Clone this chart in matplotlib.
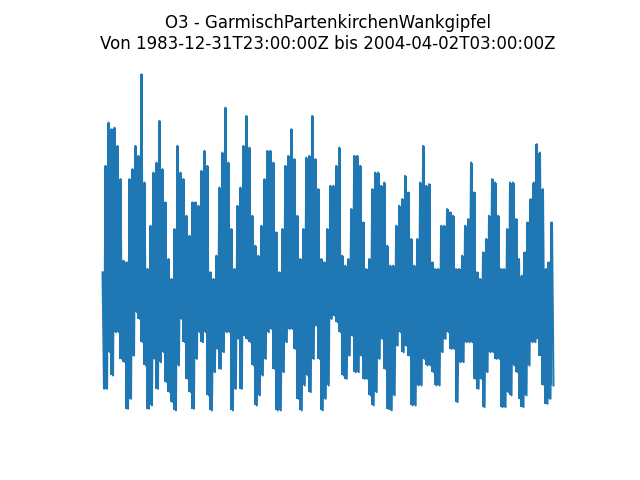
#!/usr/bin/env python3
""" O3 time series, Garmisch-Partenkirchen Wankgipfel
"""
import numpy as np
import pandas as pd
import matplotlib
matplotlib.use("Agg")
import matplotlib.pyplot as plt

station = "GarmischPartenkirchenWankgipfel"
start = "1983-12-31T23:00:00Z"
end = "2004-04-02T03:00:00Z"

# upper and lower envelope of the hourly series
highs = [86, 150, 176, 172, 173, 162, 142, 93, 92, 142, 148, 162, 156, 205, 140, 88, 114, 146, 152,
         177, 148, 128, 94, 82, 112, 162, 146, 142, 120, 108, 128, 128, 126, 147, 159, 150, 86, 82,
         96, 137, 158, 185, 152, 112, 88, 126, 137, 162, 180, 161, 120, 102, 96, 114, 142, 159, 159,
         152, 110, 86, 112, 150, 156, 172, 154, 120, 94, 112, 155, 156, 180, 154, 136, 94, 92, 112,
         138, 138, 150, 161, 96, 90, 94, 124, 156, 156, 150, 116, 88, 94, 136, 146, 146, 138, 140,
         102, 90, 90, 114, 126, 130, 144, 134, 106, 90, 106, 140, 162, 138, 139, 92, 88, 88, 114, 114,
         124, 122, 120, 88, 88, 96, 114, 118, 152, 134, 86, 82, 98, 106, 120, 142, 140, 120, 88, 88,
         112, 140, 140, 118, 94, 84, 98, 116, 130, 140, 163, 158, 136, 88, 92, 116]
lows = [16, 16, 38, 24, 50, 50, 34, 32, 4, 10, 36, 62, 58, 44, 30, 4, 6, 34, 16, 32, 38, 20, 14, 8,
        3, 30, 58, 44, 22, 14, 4, 34, 50, 44, 50, 12, 3, 26,
        40, 28, 38, 50, 50, 3, 16, 46, 16, 48, 46, 44, 30, 6, 12, 24, 34, 50, 52, 28, 3, 3, 26, 44,
        52, 52, 40, 10, 3, 18, 24, 14, 34, 54, 34, 3, 10, 18,
        58, 60, 56, 50, 24, 22, 36, 48, 26, 26, 36, 22, 22, 12, 6, 14, 34, 46, 28, 4, 3, 12, 42, 50,
        38, 42, 36, 6, 6, 18, 18, 34, 30, 30, 26, 18, 18, 38, 46,
        50, 40, 40, 8, 32, 32, 44, 44, 44, 22, 16, 22, 5, 26, 38, 38, 34, 34, 5, 5, 14, 12, 30, 26,
        10, 5, 12, 30, 44, 44, 46, 36, 18, 7, 10, 18]

values = np.column_stack([highs, lows]).ravel()
times = pd.date_range(start[:-1], end[:-1], periods=len(values))
series = pd.Series(values, index=times)
col_times = times[::2]

fig, ax = plt.subplots(figsize=(6.4, 4.8), dpi=100)
ax.fill_between(col_times, lows, highs, step="mid", color="#1f77b4", lw=0)
ax.plot(series.index, series.values, color="#1f77b4", lw=1.5)
ax.set_title(f"O3 - {station}\nVon {start} bis {end}")
ax.axis("off")
fig.savefig("out.png")
